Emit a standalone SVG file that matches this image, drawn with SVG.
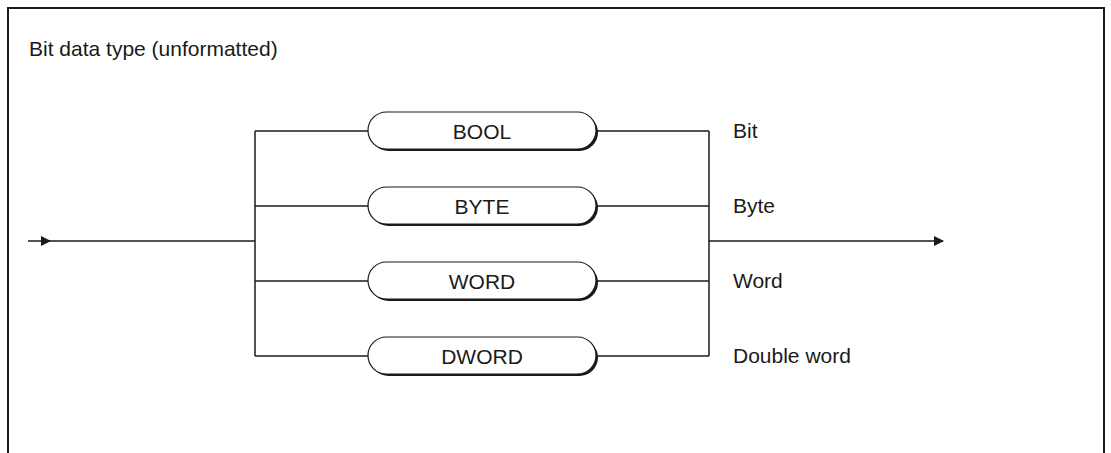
<svg xmlns="http://www.w3.org/2000/svg" width="1111" height="453" viewBox="0 0 1111 453">
<style>
text{font-family:"Liberation Sans",Arial,sans-serif;font-size:21px;fill:#1a1a1a}
.ln{stroke:#1a1a1a;stroke-width:1.5;fill:none}
.pill{fill:#fff;stroke:#1a1a1a;stroke-width:1.2}
.sh{fill:#1a1a1a}
.c{text-anchor:middle}
</style>
<defs>
<marker id="ah" markerWidth="10" markerHeight="10" refX="9" refY="5" orient="auto" markerUnits="userSpaceOnUse">
<path d="M0,0 L10,5 L0,10 z" fill="#1a1a1a"/>
</marker>
</defs>
<path d="M8,453 V8 H1104 V453" fill="none" stroke="#1a1a1a" stroke-width="2"/>
<text x="29" y="56">Bit data type (unformatted)</text>
<g id="connectors">
<line class="ln" x1="28" y1="241" x2="50" y2="241" marker-end="url(#ah)"/>
<line class="ln" x1="48" y1="241" x2="255" y2="241"/>
<line class="ln" x1="255" y1="131" x2="255" y2="356"/>
<line class="ln" x1="255" y1="131" x2="368" y2="131"/>
<line class="ln" x1="255" y1="206" x2="368" y2="206"/>
<line class="ln" x1="255" y1="281" x2="368" y2="281"/>
<line class="ln" x1="255" y1="356" x2="368" y2="356"/>
<line class="ln" x1="597" y1="131" x2="709" y2="131"/>
<line class="ln" x1="597" y1="206" x2="709" y2="206"/>
<line class="ln" x1="597" y1="281" x2="709" y2="281"/>
<line class="ln" x1="597" y1="356" x2="709" y2="356"/>
<line class="ln" x1="709" y1="131" x2="709" y2="356"/>
<line class="ln" x1="709" y1="241" x2="943" y2="241" marker-end="url(#ah)"/>
</g>
<g id="bool">
<rect class="sh" x="370" y="114" width="228" height="37" rx="18.5"/>
<rect class="pill" x="368" y="112" width="228" height="37" rx="18.5"/>
<text class="c" x="482" y="139">BOOL</text>
</g>
<g id="byte">
<rect class="sh" x="370" y="189" width="228" height="37" rx="18.5"/>
<rect class="pill" x="368" y="187" width="228" height="37" rx="18.5"/>
<text class="c" x="482" y="214">BYTE</text>
</g>
<g id="word">
<rect class="sh" x="370" y="264" width="228" height="37" rx="18.5"/>
<rect class="pill" x="368" y="262" width="228" height="37" rx="18.5"/>
<text class="c" x="482" y="289">WORD</text>
</g>
<g id="dword">
<rect class="sh" x="370" y="339" width="228" height="37" rx="18.5"/>
<rect class="pill" x="368" y="337" width="228" height="37" rx="18.5"/>
<text class="c" x="482" y="364">DWORD</text>
</g>
<g id="labels">
<text x="733" y="138">Bit</text>
<text x="733" y="213">Byte</text>
<text x="733" y="288">Word</text>
<text x="733" y="363">Double word</text>
</g>
</svg>
